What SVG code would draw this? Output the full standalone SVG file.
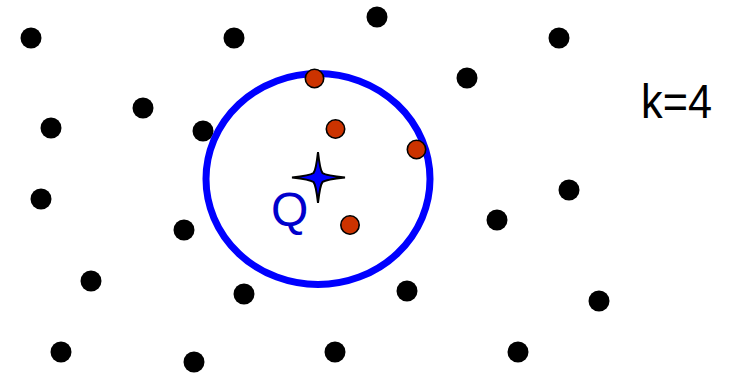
<svg xmlns="http://www.w3.org/2000/svg" width="731" height="376" viewBox="0 0 731 376">
  <style>
    .pt { fill: #000000; }
    .nn { fill: #cc3300; stroke: #000000; stroke-width: 1.6; }
    .range { fill: none; stroke: #0000ff; stroke-width: 7; }
    .star { fill: #0000ff; stroke: #000000; stroke-width: 2; stroke-linejoin: miter; }
    .lbl { font-family: "Liberation Sans", Arial, sans-serif; }
  </style>
  <rect width="731" height="376" fill="#ffffff"/>
  <g id="points">
    <circle id="p1" class="pt" cx="31" cy="38" r="10.5"/>
    <circle id="p2" class="pt" cx="234" cy="38" r="10.5"/>
    <circle id="p3" class="pt" cx="377" cy="17" r="10.5"/>
    <circle id="p4" class="pt" cx="559" cy="38" r="10.5"/>
    <circle id="p5" class="pt" cx="467" cy="78" r="10.5"/>
    <circle id="p6" class="pt" cx="143" cy="108" r="10.5"/>
    <circle id="p7" class="pt" cx="51" cy="128" r="10.5"/>
    <circle id="p8" class="pt" cx="203" cy="131" r="10.5"/>
    <circle id="p9" class="pt" cx="41" cy="199" r="10.5"/>
    <circle id="p10" class="pt" cx="569" cy="190" r="10.5"/>
    <circle id="p11" class="pt" cx="184" cy="230" r="10.5"/>
    <circle id="p12" class="pt" cx="497" cy="220" r="10.5"/>
    <circle id="p13" class="pt" cx="91" cy="281" r="10.5"/>
    <circle id="p14" class="pt" cx="244" cy="294" r="10.5"/>
    <circle id="p15" class="pt" cx="407" cy="291" r="10.5"/>
    <circle id="p16" class="pt" cx="599" cy="301" r="10.5"/>
    <circle id="p17" class="pt" cx="61" cy="352" r="10.5"/>
    <circle id="p18" class="pt" cx="194" cy="362" r="10.5"/>
    <circle id="p19" class="pt" cx="335" cy="352" r="10.5"/>
    <circle id="p20" class="pt" cx="518" cy="352" r="10.5"/>
  </g>
  <g id="range">
    <ellipse class="range" cx="318" cy="179" rx="112" ry="105.5"/>
  </g>
  <g id="neighbors">
    <circle id="n1" class="nn" cx="314.5" cy="78.5" r="9.2"/>
    <circle id="n2" class="nn" cx="335.5" cy="129" r="9.2"/>
    <circle id="n3" class="nn" cx="416.5" cy="149.5" r="9.2"/>
    <circle id="n4" class="nn" cx="350" cy="225" r="9.2"/>
  </g>
  <g id="query">
    <path class="star" d="M318,152 Q320,170 322.5,173 Q326,175.5 345,177.5 Q326,179.5 322.5,182 Q320,185 318,203 Q316,185 313.5,182 Q310,179.5 292,177.5 Q310,175.5 313.5,173 Q316,170 318,152 Z"/>
    <text class="lbl" x="271" y="226" font-size="48" fill="#0000cc">Q</text>
  </g>
  <g id="label">
    <text class="lbl" x="641" y="118" font-size="48" fill="#000000" textLength="71" lengthAdjust="spacingAndGlyphs">k=4</text>
  </g>
</svg>
